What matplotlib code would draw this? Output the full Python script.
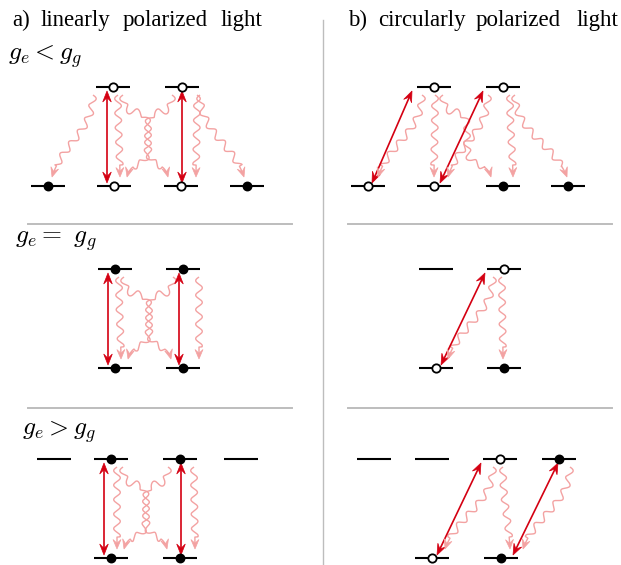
import numpy as np
import matplotlib.pyplot as plt
from matplotlib.patches import Polygon

plt.rcParams['mathtext.fontset'] = 'cm'

RED = '#d40012'
PINK = '#f3a2a2'
GREY = '#bdbdbd'

# level rows (y of upper / lower levels), level centres (x), dot states
# transitions: (upper idx, lower idx, start dx, end dx[, x of crossing point])

# a) linearly polarized light
a1_y = (87, 186)
a1_up = [113, 182]
a1_lo = [48, 114, 181, 247]
a1_up_dots = ['o', 'o']
a1_lo_dots = ['f', 'o', 'o', 'f']
a1_red = [(0, 1, -6, -7), (1, 2, 0, 1)]
a1_pink = [(0, 0, -20, 4), (0, 1, 5, 6), (0, 2, 10, -13, 148),
           (1, 1, -10, 13, 148), (1, 2, 15, 15), (1, 3, 18, -3)]

a2_y = (269, 368)
a2_up = [115, 183]
a2_lo = [115, 183]
a2_up_dots = ['f', 'f']
a2_lo_dots = ['f', 'f']
a2_red = [(0, 0, -7, -7), (1, 1, -4, -4)]
a2_pink = [(0, 0, 4, 6), (0, 1, 9, -12, 149), (1, 0, -10, 13, 149), (1, 1, 16, 16)]

a3_y = (459, 558)
a3_up = [54, 111, 180, 241]
a3_lo = [111, 180]
a3_up_dots = ['', 'f', 'f', '']
a3_lo_dots = ['f', 'f']
a3_red = [(1, 0, -7, -7), (2, 1, 1, 1)]
a3_pink = [(1, 0, 6, 6), (1, 1, 12, -13, 146), (2, 0, -12, 13, 146), (2, 1, 14, 15)]

# b) circularly polarized light
b1_y = (87, 186)
b1_up = [434, 503]
b1_lo = [368, 434, 503, 568]
b1_up_dots = ['o', 'o']
b1_lo_dots = ['o', 'o', 'f', 'f']
b1_red = [(0, 0, -22, 4), (1, 1, -20, 6)]
b1_pink = [(0, 0, -12, 10), (0, 1, 1, 0), (0, 2, 9, -12, 467),
           (1, 1, -15, 14), (1, 2, 7, 10), (1, 3, 12, -1)]

b2_y = (269, 368)
b2_up = [436, 504]
b2_lo = [436, 504]
b2_up_dots = ['', 'o']
b2_lo_dots = ['o', 'f']
b2_red = [(1, 0, -19, 5)]
b2_pink = [(1, 0, -11, 12), (1, 1, -2, -1)]

b3_y = (459, 558)
b3_up = [374, 432, 500, 559]
b3_lo = [432, 501]
b3_up_dots = ['', '', 'o', 'f']
b3_lo_dots = ['o', 'f']
b3_red = [(2, 0, -19, 5), (3, 1, -1, 12)]
b3_pink = [(2, 0, -7, 13), (2, 1, 3, 9), (3, 1, 11, 22)]

title_a = ['a)', 'linearly', 'polarized', 'light']
title_a_x = [12, 41, 123, 221]
title_b = ['b)', 'circularly', 'polarized', 'light']
title_b_x = [348, 378, 476, 577]

fig = plt.figure(figsize=(6.21, 5.65), dpi=100)
ax = fig.add_axes([0, 0, 1, 1])
ax.set_xlim(0, 621)
ax.set_ylim(565, 0)
ax.axis('off')


def head(tip, d, color, length=8, width=3.6):
    d = np.asarray(d, float)
    d = d / np.hypot(*d)
    n = np.array([-d[1], d[0]])
    tip = np.asarray(tip, float)
    pts = [tip, tip - length * d + width * n, tip - 0.6 * length * d,
           tip - length * d - width * n]
    ax.add_patch(Polygon(pts, closed=True, fc=color, ec=color, lw=0.5, zorder=4))


def bez(p0, c0, c1, p1, n=300):
    t = np.linspace(0, 1, n)[:, None]
    return ((1 - t) ** 3 * p0 + 3 * (1 - t) ** 2 * t * c0
            + 3 * (1 - t) * t ** 2 * c1 + t ** 3 * p1)


def wavy(p0, p1, mid=None, amp=3.3, lam=14.5, tail=12):
    p0 = np.array(p0, float)
    p1 = np.array(p1, float)
    if mid is None:
        dy = p1[1] - p0[1]
        c0 = p0 + np.array([0, 0.45 * dy])
        c1 = p1 - 0.4 * (p1 - p0) * np.array([0.6, 1.0])
        pts = bez(p0, c0, c1, p1)
    else:
        ym = (p0[1] + p1[1]) / 2
        a = np.array([mid, ym - 7])
        b = np.array([mid, ym + 7])
        h1 = a[1] - p0[1]
        h2 = p1[1] - b[1]
        s1 = bez(p0, p0 + [0, 0.9 * h1], a - [0, 0.9 * h1], a)
        s2 = np.column_stack([np.full(30, mid), np.linspace(a[1], b[1], 30)])
        s3 = bez(b, b + [0, 0.9 * h2],
                 p1 - [0.25 * (p1[0] - b[0]), 0.6 * h2], p1)
        pts = np.vstack([s1, s2[1:], s3[1:]])
    seg = np.hypot(*np.diff(pts, axis=0).T)
    s = np.concatenate([[0], np.cumsum(seg)])
    L = s[-1]
    tan = np.gradient(pts, axis=0)
    tan /= np.hypot(tan[:, 0], tan[:, 1])[:, None]
    nor = np.column_stack([-tan[:, 1], tan[:, 0]])
    sgn = 1 if p1[0] >= p0[0] else -1
    off = np.where(s < L - tail, sgn * amp * np.sin(2 * np.pi * s / lam), 0.0)
    w = pts + off[:, None] * nor
    keep = s <= L - 5
    ax.plot(w[keep, 0], w[keep, 1], color=PINK, lw=1.0, zorder=2,
            solid_capstyle='butt')
    head(p1, tan[-1], PINK, length=9.5, width=4.0)


def red_arrow(p0, p1):
    p0 = np.array(p0, float)
    p1 = np.array(p1, float)
    d = (p1 - p0) / np.hypot(*(p1 - p0))
    a = p0 + 6 * d
    b = p1 - 6 * d
    ax.plot([a[0], b[0]], [a[1], b[1]], color=RED, lw=1.2, zorder=3)
    head(p1, d, RED, length=11, width=4.3)
    head(p0, -d, RED, length=11, width=4.3)


def dot(x, y, kind):
    if kind == 'f':
        ax.plot(x, y, 'o', ms=6, mfc='black', mec='black', mew=1.1, zorder=6)
    elif kind == 'o':
        ax.plot(x, y, 'o', ms=6, mfc='white', mec='black', mew=1.3, zorder=6)


def panel(yy, up, lo, up_dots, lo_dots, red, pink):
    yu, yl = yy
    for xs, y, dots in [(up, yu, up_dots), (lo, yl, lo_dots)]:
        for x, k in zip(xs, dots):
            ax.plot([x - 17, x + 17], [y, y], color='black', lw=1.5, zorder=5,
                    solid_capstyle='butt')
            dot(x, y, k)
    for i, j, sdx, edx in red:
        red_arrow((up[i] + sdx, yu + 4), (lo[j] + edx, yl - 3))
    for t in pink:
        i, j, sdx, edx = t[:4]
        mid = t[4] if len(t) > 4 else None
        wavy((up[i] + sdx, yu + 8), (lo[j] + edx, yl - 9), mid)


panel(a1_y, a1_up, a1_lo, a1_up_dots, a1_lo_dots, a1_red, a1_pink)
panel(a2_y, a2_up, a2_lo, a2_up_dots, a2_lo_dots, a2_red, a2_pink)
panel(a3_y, a3_up, a3_lo, a3_up_dots, a3_lo_dots, a3_red, a3_pink)
panel(b1_y, b1_up, b1_lo, b1_up_dots, b1_lo_dots, b1_red, b1_pink)
panel(b2_y, b2_up, b2_lo, b2_up_dots, b2_lo_dots, b2_red, b2_pink)
panel(b3_y, b3_up, b3_lo, b3_up_dots, b3_lo_dots, b3_red, b3_pink)

# separators
ax.plot([323, 323], [20, 565], color=GREY, lw=1.0)
for y in [224, 408]:
    ax.plot([28, 292], [y, y], color=GREY, lw=1.4)
    ax.plot([348, 612], [y, y], color=GREY, lw=1.4)

# titles and labels
serif = 'Liberation Serif'
for words, xs in [(title_a, title_a_x), (title_b, title_b_x)]:
    for wd, x in zip(words, xs):
        ax.text(x, 26, wd, family=serif, fontsize=16.5, va='baseline', ha='left')
ax.text(8, 57, r'$g_e < g_g$', fontsize=18.5, va='center', ha='left')
ax.text(15, 240, r'$g_e =\ g_g$', fontsize=18.5, va='center', ha='left')
ax.text(22, 432, r'$g_e > g_g$', fontsize=18.5, va='center', ha='left')

fig.savefig('out.png', dpi=100)
